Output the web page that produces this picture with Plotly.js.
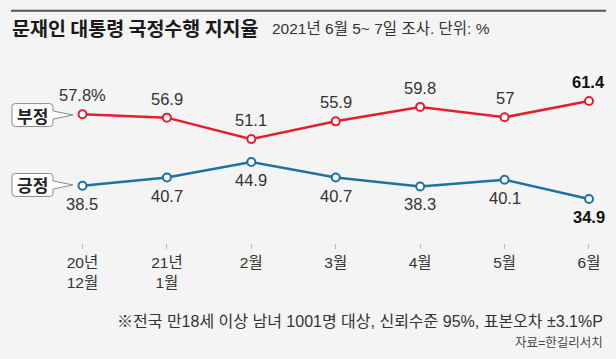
<!DOCTYPE html>
<html>
<head>
<meta charset="utf-8">
<script src="https://cdn.plot.ly/plotly-3.0.1.min.js"></script>
<style>
html,body{margin:0;padding:0;background:#f4f4f4;}
#chart{width:616px;height:359px;}
</style>
</head>
<body>
<div id="chart"></div>
<script>
// ---- data ----
var categories = [0, 1, 2, 3, 4, 5, 6];
var tickLabels = ["20년<br>12월", "21년<br>1월", "2월", "3월", "4월", "5월", "6월"];
var negative = [57.8, 56.9, 51.1, 55.9, 59.8, 57, 61.4];   // 부정
var positive = [38.5, 40.7, 44.9, 40.7, 38.3, 40.1, 34.9]; // 긍정
var seriesNames = ["부정", "긍정"];

var RED = "#e41f2d";
var BLUE = "#1b72a6";
var NARROW = "Liberation Sans, Noto Sans CJK KR, sans-serif";
var KR = "Noto Sans CJK KR, sans-serif";

function lineTrace(vals, color) {
  return {
    x: categories, y: vals, type: "scatter", mode: "lines+markers",
    line: {color: color, width: 2.5},
    marker: {symbol: "circle", size: 8, color: "#ffffff", line: {color: color, width: 2}},
    hoverinfo: "skip", cliponaxis: false
  };
}

var data = [lineTrace(negative, RED), lineTrace(positive, BLUE)];

function fmt(v, i, n, pct) {
  var s = String(v);
  if (i === 0 && pct) s += "%";
  if (i === n - 1) s = "<b>" + s + "</b>";
  return s;
}

var annotations = [];
function addLabels(vals, shift, pct) {
  vals.forEach(function (v, i) {
    annotations.push({
      x: categories[i], y: v, xref: "x", yref: "y", text: fmt(v, i, vals.length, pct),
      showarrow: false, yshift: shift, xanchor: "center", yanchor: "middle",
      font: {family: NARROW, size: 16.5, color: i === vals.length - 1 ? "#111" : "#333"}
    });
  });
}
addLabels(negative, 19, true);
addLabels(positive, -18, false);

// callout boxes for series names
var shapes = [];
function callout(name, yc) {
  var x0 = -0.835, x1 = -0.349, tip = -0.113;
  var hy = 3.1, rx = 0.04, ry = 0.85, py = 1.1;
  var p = "M " + (x0 + rx) + "," + (yc + hy) +
    " L " + (x1 - rx) + "," + (yc + hy) +
    " Q " + x1 + "," + (yc + hy) + " " + x1 + "," + (yc + hy - ry) +
    " L " + x1 + "," + (yc + py) +
    " L " + tip + "," + yc +
    " L " + x1 + "," + (yc - py) +
    " L " + x1 + "," + (yc - hy + ry) +
    " Q " + x1 + "," + (yc - hy) + " " + (x1 - rx) + "," + (yc - hy) +
    " L " + (x0 + rx) + "," + (yc - hy) +
    " Q " + x0 + "," + (yc - hy) + " " + x0 + "," + (yc - hy + ry) +
    " L " + x0 + "," + (yc + hy - ry) +
    " Q " + x0 + "," + (yc + hy) + " " + (x0 + rx) + "," + (yc + hy) + " Z";
  shapes.push({type: "path", path: p, xref: "x", yref: "y",
    fillcolor: "#ffffff", line: {color: "#8a8a8a", width: 1}, layer: "above"});
  annotations.push({x: (x0 + x1) / 2, y: yc, xref: "x", yref: "y", text: "<b>" + name + "</b>",
    showarrow: false, xanchor: "center", yanchor: "middle",
    font: {family: KR, size: 17, color: "#222"}});
}
callout(seriesNames[0], negative[0] - 0.2);
callout(seriesNames[1], positive[0] + 0.2);

// top rule
shapes.push({type: "line", xref: "paper", yref: "paper",
  x0: 11 / 616, x1: 606 / 616, y0: (243 - 10.7) / 193, y1: (243 - 10.7) / 193,
  line: {color: "#555555", width: 2}});

// title / subtitle / notes
annotations.push({xref: "paper", yref: "paper", x: 10 / 616, y: (243 - 27) / 193,
  xanchor: "left", yanchor: "middle", showarrow: false,
  text: "<b>문재인 대통령 국정수행 지지율</b>",
  font: {family: KR, size: 19.5, color: "#1a1a1a"}});
annotations.push({xref: "paper", yref: "paper", x: 270 / 616, y: (243 - 28) / 193,
  xanchor: "left", yanchor: "middle", showarrow: false,
  text: "2021년 6월 5~ 7일 조사. 단위: %",
  font: {family: NARROW, size: 15.5, color: "#333"}});
annotations.push({xref: "paper", yref: "paper", x: 605 / 616, y: (243 - 321) / 193,
  xanchor: "right", yanchor: "middle", showarrow: false,
  text: "※전국 만18세 이상 남녀 1001명 대상, 신뢰수준 95%, 표본오차 ±3.1%P",
  font: {family: NARROW, size: 16, color: "#333"}});
annotations.push({xref: "paper", yref: "paper", x: 605 / 616, y: (243 - 343) / 193,
  xanchor: "right", yanchor: "middle", showarrow: false,
  text: "자료=한길리서치",
  font: {family: NARROW, size: 12.5, color: "#444"}});

var layout = {
  width: 616, height: 359,
  margin: {l: 0, r: 0, t: 50, b: 116, pad: 0},
  paper_bgcolor: "#f4f4f4", plot_bgcolor: "rgba(0,0,0,0)",
  showlegend: false,
  xaxis: {
    range: [-0.977, 6.32], tickvals: categories, ticktext: tickLabels,
    showgrid: false, zeroline: false, showline: false,
    ticks: "outside", ticklen: 5, tickcolor: "#bbbbbb", tickwidth: 1,
    tickfont: {family: NARROW, size: 15.5, color: "#333"}, fixedrange: true
  },
  yaxis: {range: [23.02, 75.18], visible: false, fixedrange: true},
  shapes: shapes,
  annotations: annotations
};

Plotly.newPlot("chart", data, layout, {displayModeBar: false, staticPlot: true});
</script>
</body>
</html>
